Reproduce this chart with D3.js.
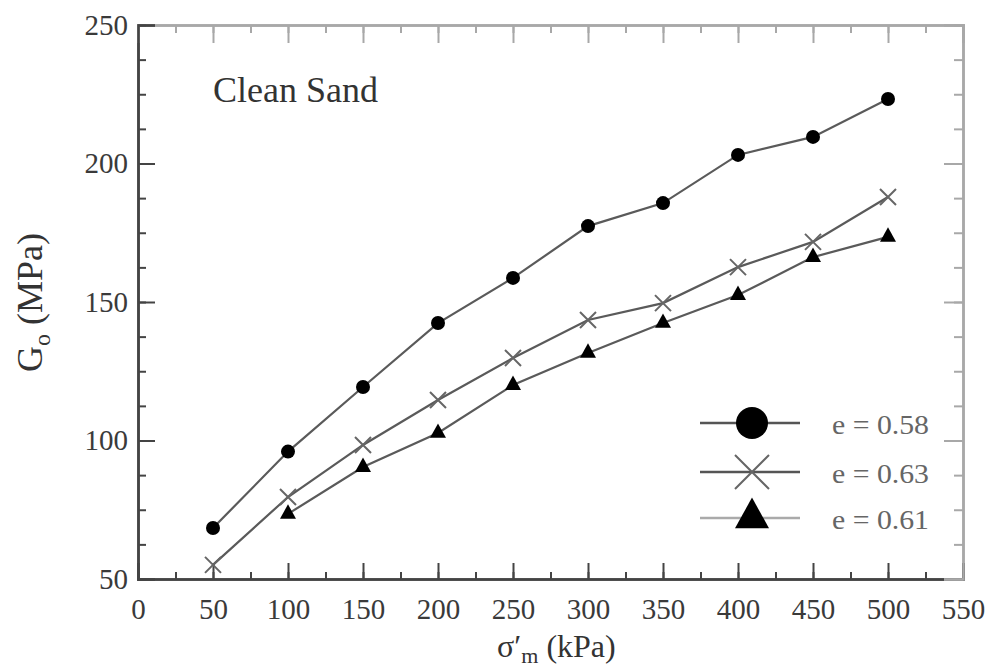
<!DOCTYPE html>
<html>
<head>
<meta charset="utf-8">
<script src="https://cdn.jsdelivr.net/npm/d3@7/dist/d3.min.js"></script>
<style>
  html, body { margin: 0; padding: 0; background: #fff; }
  svg { display: block; }
  text { font-family: "Liberation Serif", "Times New Roman", serif; }
</style>
</head>
<body>
<svg id="chart" width="989" height="671"></svg>
<script>
// Mean effective confining pressure (kPa)
const pressures = [50, 100, 150, 200, 250, 300, 350, 400, 450, 500];
// Small-strain shear modulus G0 (MPa) for each void ratio
const gE058 = [68.4, 96.0, 119.3, 142.4, 158.7, 177.4, 185.7, 203.1, 209.6, 223.3];
const gE063 = [55.1, 79.6, 98.4, 114.6, 129.8, 143.5, 149.6, 162.6, 171.7, 187.9];
const gE061 = [null, 73.5, 90.4, 102.7, 120.0, 131.6, 142.4, 152.5, 166.2, 173.5];

const seriesNames = ["e = 0.58", "e = 0.63", "e = 0.61"];
const xTicks = [0, 50, 100, 150, 200, 250, 300, 350, 400, 450, 500, 550];
const yTicks = [50, 100, 150, 200, 250];
const xMinor = d3.range(0, 551, 25);
const yMinor = d3.range(50, 250.1, 12.5);

const plotL = 138, plotR = 963, plotT = 25, plotB = 579;
const x = d3.scaleLinear().domain([0, 550]).range([plotL, plotR]);
const y = d3.scaleLinear().domain([50, 250]).range([plotB, plotT]);

const svg = d3.select("#chart");

// ---- frame with inward ticks on all four sides ----
function styleAxis(g, color, labels) {
  g.select(".domain").attr("stroke", color).attr("stroke-width", 2.5);
  g.selectAll(".tick line").attr("stroke", color).attr("stroke-width", 2);
  g.selectAll(".tick text")
    .attr("fill", labels ? "#3a3a3a" : "none")
    .style("font-size", "29px")
    .style("font-family", "'Liberation Serif', serif");
}

// minor ticks
svg.append("g").attr("transform", `translate(0,${plotB})`)
  .call(d3.axisBottom(x).tickValues(xMinor).tickSize(-7).tickFormat(""))
  .call(g => styleAxis(g, "#444", false));
svg.append("g").attr("transform", `translate(0,${plotT})`)
  .call(d3.axisTop(x).tickValues(xMinor).tickSize(-8).tickFormat(""))
  .call(g => styleAxis(g, "#a8a8a8", false));
svg.append("g").attr("transform", `translate(${plotL},0)`)
  .call(d3.axisLeft(y).tickValues(yMinor).tickSize(-8).tickFormat(""))
  .call(g => styleAxis(g, "#444", false));
svg.append("g").attr("transform", `translate(${plotR},0)`)
  .call(d3.axisRight(y).tickValues(yMinor).tickSize(-9).tickFormat(""))
  .call(g => styleAxis(g, "#a8a8a8", false));

// major ticks + labels
svg.append("g").attr("transform", `translate(0,${plotB})`)
  .call(d3.axisBottom(x).tickValues(xTicks).tickSize(-16).tickPadding(19).tickFormat(d3.format("d")))
  .call(g => styleAxis(g, "#444", true));
svg.append("g").attr("transform", `translate(0,${plotT})`)
  .call(d3.axisTop(x).tickValues(xTicks).tickSize(-18).tickFormat(""))
  .call(g => styleAxis(g, "#a8a8a8", false));
svg.append("g").attr("transform", `translate(${plotL},0)`)
  .call(d3.axisLeft(y).tickValues(yTicks).tickSize(-17).tickPadding(10).tickFormat(d3.format("d")))
  .call(g => styleAxis(g, "#444", true));
svg.append("g").attr("transform", `translate(${plotR},0)`)
  .call(d3.axisRight(y).tickValues(yTicks).tickSize(-19).tickFormat(""))
  .call(g => styleAxis(g, "#a8a8a8", false));

// ---- series ----
const series = [
  { name: seriesNames[0], values: gE058, marker: "circle" },
  { name: seriesNames[1], values: gE063, marker: "cross" },
  { name: seriesNames[2], values: gE061, marker: "triangle" }
];

const line = d3.line()
  .defined(d => d.v != null)
  .x(d => x(d.p))
  .y(d => y(d.v));

function drawMarker(g, kind, cx, cy, s) {
  if (kind === "circle") {
    g.append("circle").attr("cx", cx).attr("cy", cy).attr("r", s).attr("fill", "#000");
  } else if (kind === "cross") {
    g.append("path")
      .attr("d", `M${cx - s},${cy - s}L${cx + s},${cy + s}M${cx - s},${cy + s}L${cx + s},${cy - s}`)
      .attr("stroke", "#666").attr("stroke-width", 2).attr("fill", "none");
  } else {
    const h = s * 1.8;
    g.append("path")
      .attr("d", `M${cx},${cy - h * 2 / 3}L${cx + s},${cy + h / 3}L${cx - s},${cy + h / 3}Z`)
      .attr("fill", "#000");
  }
}

const markerSize = { circle: 7, cross: 8, triangle: 8 };

series.forEach(s => {
  const pts = pressures.map((p, i) => ({ p, v: s.values[i] }));
  svg.append("path")
    .datum(pts)
    .attr("d", line)
    .attr("fill", "none")
    .attr("stroke", "#5a5a5a")
    .attr("stroke-width", 2.2);
  const g = svg.append("g");
  pts.filter(d => d.v != null).forEach(d => drawMarker(g, s.marker, x(d.p), y(d.v), markerSize[s.marker]));
});

// ---- annotation ----
svg.append("text")
  .attr("x", 213).attr("y", 102)
  .attr("fill", "#333")
  .style("font-size", "36px")
  .text("Clean Sand");

// ---- legend ----
const legendRows = [423, 472, 518];
const legendLine = ["#555", "#555", "#aaa"];
const legendSize = { circle: 16, cross: 17, triangle: 17 };
series.forEach((s, i) => {
  const g = svg.append("g");
  const cy = legendRows[i];
  g.append("line").attr("x1", 700).attr("x2", 800).attr("y1", cy).attr("y2", cy)
    .attr("stroke", legendLine[i]).attr("stroke-width", 2.5);
  drawMarker(g, s.marker, 752, cy, legendSize[s.marker]);
  g.append("text").attr("x", 832).attr("y", cy + 11)
    .attr("fill", "#666")
    .style("font-size", "28px")
    .attr("textLength", 97)
    .attr("lengthAdjust", "spacingAndGlyphs")
    .text(s.name);
});

// ---- axis titles ----
const xt = svg.append("text").attr("x", 497).attr("y", 657).attr("fill", "#333").style("font-size", "32px");
xt.append("tspan").text("σ′");
xt.append("tspan").attr("dy", 6).style("font-size", "22px").text("m");
xt.append("tspan").attr("dy", -6).text(" (kPa)");

const yt = svg.append("text")
  .attr("transform", "translate(42,372) rotate(-90)")
  .attr("fill", "#333").style("font-size", "36px");
yt.append("tspan").text("G");
yt.append("tspan").attr("dy", 8).style("font-size", "24px").text("o");
yt.append("tspan").attr("dy", -8).text(" (MPa)");
</script>
</body>
</html>
